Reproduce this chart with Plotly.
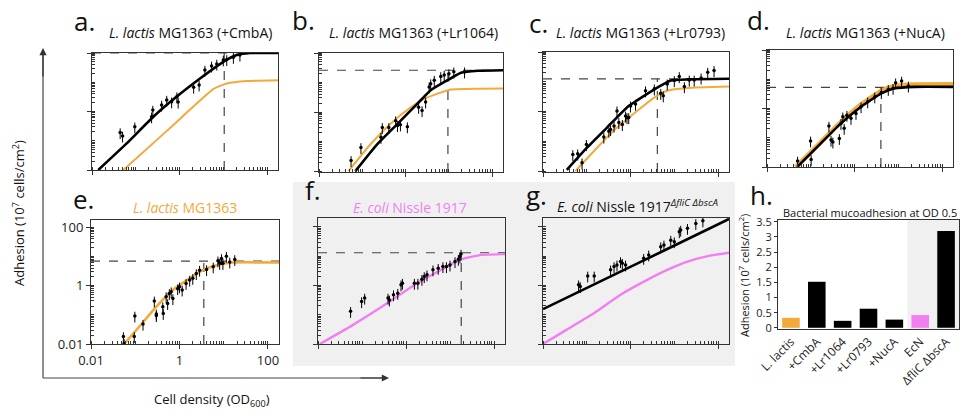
import plotly.graph_objects as go

W, H = 963, 412
ORANGE = "#F2AA3C"
PINK = "#F27EF0"
GRAY_BG = "#F0F0F0"
AX = "#333333"

# ---------------- data (OD600, adhesion 1e7 cells/cm2) ----------------
# Panel a: +CmbA
a_fit_od = [0.0139, 0.062, 0.252, 0.863, 2.94, 10, 20.3, 40.7, 178]
a_fit_ad = [0.01, 0.081, 0.66, 3.24, 13.5, 50, 85, 100, 100]
a_wt_od = [0.052, 0.56, 5.9, 12, 35, 178]
a_wt_ad = [0.01, 0.245, 5.8, 9.1, 11, 11.7]
a_pts_od = [0.044, 0.050, 0.095, 0.23, 0.245, 0.39, 0.51, 0.66, 0.87, 0.93, 2.1, 2.8, 3.8, 5.4, 7.1, 10, 12, 17, 24]
a_pts_ad = [0.19, 0.145, 0.30, 0.66, 1.12, 1.66, 2.45, 2.14, 3.2, 2.1, 6.8, 8.1, 26, 36, 42, 58, 60, 71, 85]
a_cross = (10.5, 100)

# Panel b: +Lr1064
b_fit_od = [0.069, 0.22, 0.65, 1.86, 3.8, 9.3, 19, 47, 178]
b_fit_ad = [0.01, 0.081, 0.40, 1.9, 5.5, 12, 21.4, 25, 26]
b_wt_od = [0.048, 0.155, 0.45, 1.32, 2.7, 5.5, 11, 47, 178]
b_wt_ad = [0.01, 0.081, 0.40, 1.45, 2.8, 4.2, 5.8, 6.2, 6.3]
b_pts_od = [0.055, 0.093, 0.27, 0.29, 0.41, 0.59, 0.65, 0.76, 1.1, 2.0, 2.4, 2.9, 3.5, 3.8, 4.6, 6.5, 7.8, 10, 13, 23]
b_pts_ad = [0.023, 0.063, 0.14, 0.30, 0.30, 0.51, 0.35, 0.37, 0.32, 1.45, 1.12, 2.2, 7.1, 9.1, 12, 16, 18, 20, 23, 23]
b_cross = (9.5, 26)

# Panel c: +Lr0793
c_fit_od = [0.035, 0.10, 0.29, 0.83, 2.4, 4.9, 8.3, 20, 178]
c_fit_ad = [0.011, 0.06, 0.29, 1.38, 3.9, 7.4, 11, 12, 12.6]
c_wt_od = [0.055, 0.17, 0.49, 1.41, 3.5, 6.9, 20, 178]
c_wt_ad = [0.01, 0.06, 0.29, 1.05, 2.95, 5.0, 6.2, 6.9]
c_pts_od = [0.048, 0.062, 0.078, 0.098, 0.245, 0.32, 0.35, 0.42, 0.49, 0.54, 0.65, 0.77, 0.83, 0.91, 1.0, 1.3, 2.2, 3.5, 4.9, 5.6, 6.9, 10, 13, 17, 22, 28.5, 41, 58, 81]
c_pts_ad = [0.036, 0.038, 0.019, 0.079, 0.14, 0.22, 0.25, 0.33, 1.05, 0.43, 0.37, 0.71, 0.63, 0.63, 1.55, 1.78, 5.0, 5.8, 4.1, 3.4, 8.5, 11, 15, 6.9, 11.5, 11.5, 13.5, 21, 24]
c_cross = (4.1, 12.6)

# Panel d: +NucA
d_fit_od = [0.049, 0.168, 0.49, 1.41, 4.1, 8.3, 24, 178]
d_fit_ad = [0.01, 0.063, 0.31, 1.15, 3.3, 4.9, 5.5, 5.5]
d_wt_od = [0.045, 0.168, 0.49, 1.41, 4.1, 8.3, 24, 178]
d_wt_ad = [0.01, 0.071, 0.355, 1.41, 4.1, 6.0, 6.8, 6.9]
d_pts_od = [0.050, 0.099, 0.102, 0.26, 0.29, 0.32, 0.45, 0.49, 0.54, 0.58, 0.67, 0.83, 1.08, 1.41, 2.0, 2.9, 4.1, 5.9, 7.6, 8.7, 11.9, 17]
d_pts_ad = [0.016, 0.078, 0.018, 0.25, 0.083, 0.072, 0.095, 0.31, 0.52, 0.21, 0.59, 0.46, 0.68, 1.15, 1.7, 2.5, 3.5, 4.5, 4.9, 7.6, 8.7, 5.9]
d_cross = (4.0, 5.3)

# Panel e: L. lactis MG1363
e_wt_od = [0.056, 0.123, 0.30, 0.71, 1.7, 3.4, 6.8, 16, 178]
e_wt_ad = [0.01, 0.039, 0.19, 0.71, 1.78, 3.4, 5.0, 6.2, 6.2]
e_pts_od = [0.054, 0.056, 0.095, 0.098, 0.15, 0.27, 0.30, 0.30, 0.42, 0.43, 0.50, 0.54, 0.59, 0.65, 0.71, 0.91, 1.0, 1.15, 1.41, 1.7, 2.0, 2.4, 2.85, 4.1, 5.8, 7.4, 8.1, 8.9, 9.6, 11.5, 13.7, 17.8]
e_pts_ad = [0.018, 0.0105, 0.018, 0.091, 0.048, 0.30, 0.107, 0.094, 0.19, 0.112, 0.42, 0.245, 0.54, 0.62, 0.36, 0.79, 0.91, 0.71, 1.19, 1.55, 1.78, 2.6, 3.4, 3.55, 4.4, 7.1, 5.8, 8.5, 5.8, 10.2, 6.5, 7.9]
e_cross = (3.55, 6.9)

# Panel f: E. coli Nissle 1917
f_wt_od = [0.011, 0.055, 0.38, 1.55, 6.3, 17.8, 52, 178]
f_wt_ad = [0.01, 0.040, 0.25, 1.04, 3.4, 7.8, 11, 11.7]
f_pts_od = [0.055, 0.098, 0.115, 0.39, 0.42, 0.52, 0.65, 0.77, 0.83, 1.55, 1.86, 2.3, 2.6, 3.0, 4.1, 5.4, 6.9, 8.3, 10, 13, 15.5, 16.8, 17.8]
f_pts_ad = [0.13, 0.28, 0.37, 0.37, 0.32, 0.48, 0.54, 1.05, 1.19, 1.19, 1.19, 1.62, 2.0, 2.3, 3.4, 3.85, 4.4, 4.4, 5.0, 6.5, 7.8, 9.5, 11.7]
f_cross = (18, 13)

# Panel g: E. coli Nissle 1917 dfliC dbscA
g_fit_od = [0.01, 0.59, 6.9, 178]
g_fit_ad = [0.155, 2.95, 17.4, 185]
g_wt_od = [0.01, 0.035, 0.145, 0.59, 2.4, 6.9, 20, 58, 178]
g_wt_ad = [0.01, 0.031, 0.112, 0.48, 1.55, 3.4, 6.5, 10, 13]
g_pts_od = [0.065, 0.071, 0.105, 0.148, 0.35, 0.42, 0.49, 0.59, 0.65, 0.77, 2.0, 2.6, 4.9, 5.8, 8.3, 10, 13, 14, 20, 31, 45]
g_pts_ad = [1.05, 0.91, 2.1, 2.1, 3.4, 4.4, 5.0, 6.5, 5.7, 5.0, 8.4, 11, 21, 24, 35, 31, 68, 77, 89, 130, 160]

# Panel h: adhesion at OD 0.5
h_labels = ["L. lactis", "+CmbA", "+Lr1064", "+Lr0793", "+NucA", "EcN", "ΔfliC ΔbscA"]
h_values = [0.33, 1.52, 0.23, 0.63, 0.27, 0.42, 3.2]
h_colors = [ORANGE, "black", "black", "black", "black", PINK, "black"]
h_yticks = [0, 0.5, 1, 1.5, 2, 2.5, 3, 3.5]

# ---------------- layout helpers ----------------
def px_x(p):
    return p / W

def px_y(p):
    return 1 - p / H

panels = {
    # name: (axis index, x0, x1, ytop, ybottom, yrange)
    "a": (1, 92, 278, 53, 170, [-2, 2.0]),
    "b": (2, 319, 503, 53, 172, [-2.03, 2.0]),
    "c": (3, 543, 729, 52, 172, [-2.03, 2.0]),
    "d": (4, 767, 953, 50, 167, [-2, 2.0]),
    "e": (5, 91, 279, 220, 344, [-2, 2.25]),
    "f": (6, 318, 505, 218, 344, [-2, 2.3]),
    "g": (7, 543, 729, 218, 344, [-2, 2.3]),
}

fig = go.Figure()
layout_axes = {}

def axname(i, letter):
    return letter if i == 1 else f"{letter}{i}"

def add_line(i, xs, ys, color, width):
    fig.add_trace(go.Scatter(x=xs, y=ys, mode="lines", line=dict(color=color, width=width, shape="spline", smoothing=0.45),
                             xaxis=axname(i, "x"), yaxis=axname(i, "y"), showlegend=False, hoverinfo="skip"))

def add_pts(i, xs, ys):
    fig.add_trace(go.Scatter(x=xs, y=ys, mode="markers", marker=dict(color="black", size=3.5),
                             error_y=dict(type="percent", value=40, thickness=1, width=0, color="black"),
                             xaxis=axname(i, "x"), yaxis=axname(i, "y"), showlegend=False, hoverinfo="skip"))

def add_cross(i, cx, cy, yr):
    xa, ya = axname(i, "x"), axname(i, "y")
    fig.add_trace(go.Scatter(x=[0.01, 178], y=[cy, cy], mode="lines", line=dict(color="#444", width=1.2, dash="dash"),
                             xaxis=xa, yaxis=ya, showlegend=False, hoverinfo="skip"))
    fig.add_trace(go.Scatter(x=[cx, cx], y=[10 ** yr[0], cy], mode="lines", line=dict(color="#444", width=1.2, dash="dash"),
                             xaxis=xa, yaxis=ya, showlegend=False, hoverinfo="skip"))

for name, (i, x0, x1, yt, yb, yr) in panels.items():
    show_labels = name == "e"
    xa = dict(domain=[px_x(x0), px_x(x1)], type="log", range=[-2, 2.25], anchor=axname(i, "y"),
              showline=True, linecolor=AX, linewidth=1, mirror=True, showgrid=False, zeroline=False,
              automargin=False,
              tickvals=[0.01, 1, 100], ticktext=["0.01", "1", "100"], showticklabels=show_labels,
              ticks="outside", ticklen=4, tickcolor=AX, tickfont=dict(family="Open Sans", size=13, color="#222"),
              minor=dict(ticks="inside", ticklen=3, tickcolor=AX, dtick="D1", showgrid=False))
    ya = dict(domain=[px_y(yb), px_y(yt)], type="log", range=yr, anchor=axname(i, "x"),
              showline=True, linecolor=AX, linewidth=1, mirror=True, showgrid=False, zeroline=False,
              automargin=False,
              tickvals=[0.01, 1, 100], ticktext=["0.01", "1", "100"], showticklabels=show_labels,
              ticks="outside", ticklen=4, tickcolor=AX, tickfont=dict(family="Open Sans", size=13, color="#222"),
              minor=dict(ticks="inside", ticklen=3, tickcolor=AX, dtick="D1", showgrid=False))
    layout_axes["xaxis" if i == 1 else f"xaxis{i}"] = xa
    layout_axes["yaxis" if i == 1 else f"yaxis{i}"] = ya

# panel a
add_cross(1, *a_cross, panels["a"][5])
add_line(1, a_wt_od, a_wt_ad, ORANGE, 2)
add_line(1, a_fit_od, a_fit_ad, "black", 2.6)
add_pts(1, a_pts_od, a_pts_ad)
# panel b
add_cross(2, *b_cross, panels["b"][5])
add_line(2, b_wt_od, b_wt_ad, ORANGE, 2)
add_line(2, b_fit_od, b_fit_ad, "black", 2.6)
add_pts(2, b_pts_od, b_pts_ad)
# panel c
add_cross(3, *c_cross, panels["c"][5])
add_line(3, c_wt_od, c_wt_ad, ORANGE, 2)
add_line(3, c_fit_od, c_fit_ad, "black", 2.6)
add_pts(3, c_pts_od, c_pts_ad)
# panel d
add_cross(4, *d_cross, panels["d"][5])
add_line(4, d_wt_od, d_wt_ad, ORANGE, 4)
add_line(4, d_fit_od, d_fit_ad, "black", 2.6)
add_pts(4, d_pts_od, d_pts_ad)
# panel e
add_cross(5, *e_cross, panels["e"][5])
add_line(5, e_wt_od, e_wt_ad, ORANGE, 2.6)
add_pts(5, e_pts_od, e_pts_ad)
# panel f
add_cross(6, *f_cross, panels["f"][5])
add_line(6, f_wt_od, f_wt_ad, PINK, 2.4)
add_pts(6, f_pts_od, f_pts_ad)
# panel g
add_line(7, g_wt_od, g_wt_ad, PINK, 2.4)
add_line(7, g_fit_od, g_fit_ad, "black", 2.6)
add_pts(7, g_pts_od, g_pts_ad)

# panel h bar chart
fig.add_trace(go.Bar(x=h_labels, y=h_values, marker=dict(color=h_colors, line=dict(width=0)),
                     xaxis="x8", yaxis="y8", showlegend=False, hoverinfo="skip"))
layout_axes["xaxis8"] = dict(domain=[px_x(778), px_x(959)], anchor="y8", showline=True, linecolor=AX, mirror=True,
                             showgrid=False, ticks="", tickangle=-45, range=[-0.5, 6.5], automargin=False,
                             tickfont=dict(family="Open Sans", size=12, color="#222"))
layout_axes["yaxis8"] = dict(domain=[px_y(329), px_y(220)], anchor="x8", showline=True, linecolor=AX, mirror=True,
                             showgrid=False, zeroline=False, range=[-0.04, 3.56], tickvals=h_yticks,
                             ticks="outside", ticklen=3, tickcolor=AX, automargin=False,
                             tickfont=dict(family="Open Sans", size=11, color="#222"))

shapes = [
    # gray region behind f and g
    dict(type="rect", xref="paper", yref="paper", x0=px_x(293), x1=px_x(735), y0=px_y(366), y1=px_y(182),
         fillcolor=GRAY_BG, line=dict(width=0), layer="below"),
    # gray band in h behind EcN bars
    dict(type="rect", xref="x8", yref="y8 domain", x0=4.5, x1=6.5, y0=0, y1=1,
         fillcolor=GRAY_BG, line=dict(width=0), layer="below"),
    # big L axis
    dict(type="line", xref="paper", yref="paper", x0=px_x(43), x1=px_x(43), y0=px_y(378), y1=px_y(52),
         line=dict(color="#444", width=1.2)),
    dict(type="line", xref="paper", yref="paper", x0=px_x(43), x1=px_x(384), y0=px_y(378), y1=px_y(378),
         line=dict(color="#444", width=1.2)),
]

ann = []
# arrow heads
ann.append(dict(xref="paper", yref="paper", x=px_x(43), y=px_y(48), ax=0, ay=30, text="", showarrow=True,
                arrowhead=2, arrowsize=1.2, arrowwidth=1.2, arrowcolor="#333"))
ann.append(dict(xref="paper", yref="paper", x=px_x(389), y=px_y(378), ax=-30, ay=0, text="", showarrow=True,
                arrowhead=2, arrowsize=1.2, arrowwidth=1.2, arrowcolor="#333"))

def text(x, y, s, size, color="#111", angle=0, xanchor="center", yanchor="middle"):
    ann.append(dict(xref="paper", yref="paper", x=px_x(x), y=px_y(y), text=s, showarrow=False,
                    font=dict(family="Open Sans", size=size, color=color), textangle=angle,
                    xanchor=xanchor, yanchor=yanchor))

# panel letters
for lt, x, y in [("a.", 84, 21), ("b.", 303, 20), ("c.", 538, 23), ("d.", 758, 20),
                 ("e.", 83, 199), ("f.", 313, 190), ("g.", 536, 195), ("h.", 761, 195)]:
    text(x, y, lt, 26)

# subplot titles
text(190, 33, "<i>L. lactis</i> MG1363 (+CmbA)", 14)
text(413, 33, "<i>L. lactis</i> MG1363 (+Lr1064)", 14)
text(640, 33, "<i>L. lactis</i> MG1363 (+Lr0793)", 14)
text(865, 33, "<i>L. lactis</i> MG1363 (+NucA)", 14)
text(185, 207, "<i>L. lactis</i> MG1363", 14, color=ORANGE)
text(410, 207, "<i>E. coli</i> Nissle 1917", 14, color=PINK)
text(637, 206, "<i>E. coli</i> Nissle 1917<sup><i>ΔfliC ΔbscA</i></sup>", 14)
text(870, 212, "Bacterial mucoadhesion at OD 0.5", 11)

# axis titles
text(18, 213, "Adhesion (10<sup>7</sup> cells/cm<sup>2</sup>)", 13, angle=-90)
text(212, 400, "Cell density (OD<sub>600</sub>)", 13)
text(744, 276, "Adhesion (10<sup>7</sup> cells/cm<sup>2</sup>)", 11, angle=-90)

fig.update_layout(width=W, height=H, margin=dict(l=0, r=0, t=0, b=0, pad=0, autoexpand=False),
                  paper_bgcolor="white",
                  plot_bgcolor="rgba(0,0,0,0)", bargap=0.32, shapes=shapes, annotations=ann,
                  font=dict(family="Open Sans"), **layout_axes)

fig.write_html("out.html")
